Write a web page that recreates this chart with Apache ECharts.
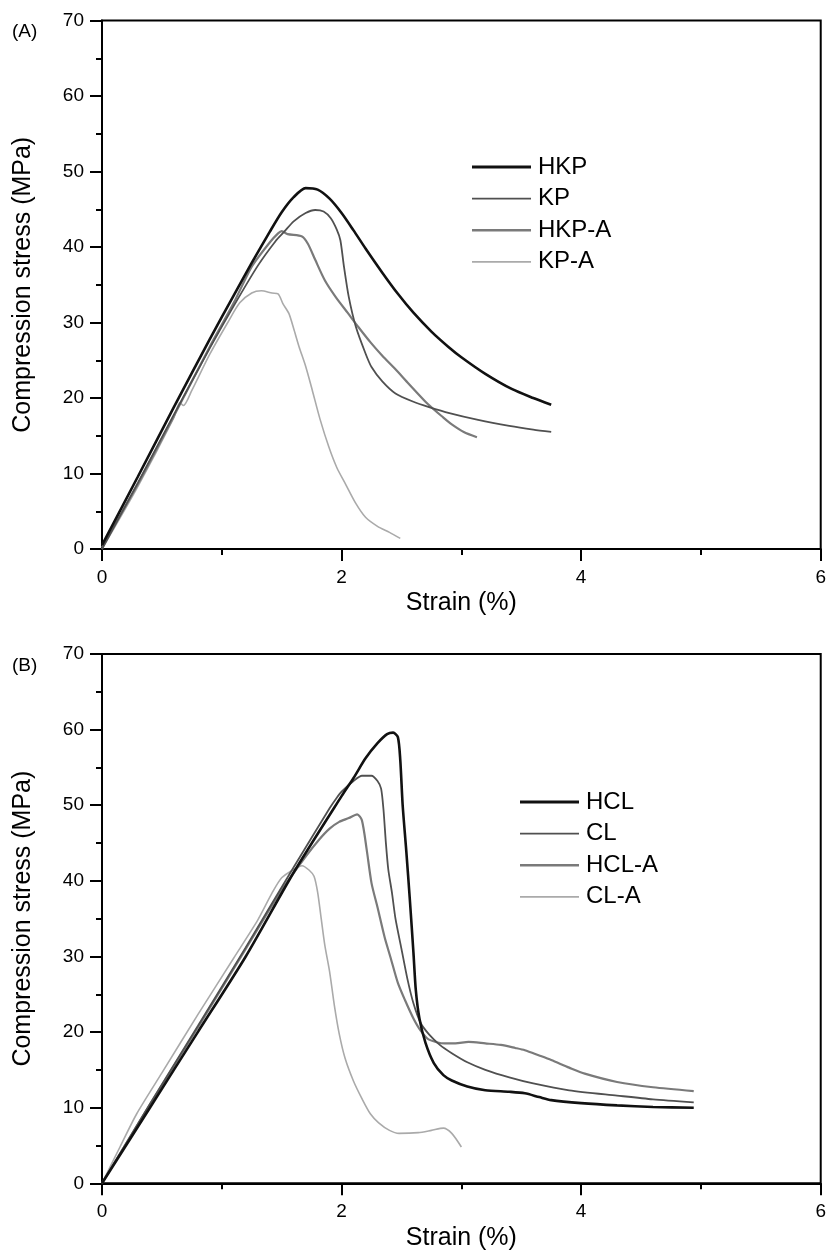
<!DOCTYPE html>
<html>
<head>
<meta charset="utf-8">
<script src="https://cdn.jsdelivr.net/npm/echarts@6/dist/echarts.min.js"></script>
<style>
html,body{margin:0;padding:0;background:#fff;}
#c{width:829px;height:1256px;}
</style>
</head>
<body>
<div id="c"></div>
<script>
// ---- Panel A data ----
const hkpX = [0,0.3,0.6,0.9,1.1,1.25,1.4,1.5,1.6,1.7,1.8,1.9,2.0,2.1,2.2,2.34,2.47,2.6,2.75,2.89,3.0,3.2,3.42,3.6,3.75];
const hkpY = [0.5,9.6,18.8,27.8,33.6,37.9,42.0,44.6,46.6,47.8,47.6,46.4,44.5,42.2,39.8,36.6,33.8,31.3,28.8,26.8,25.4,23.2,21.2,20.0,19.1];
const kpX = [0,0.3,0.6,0.9,1.1,1.3,1.45,1.52,1.6,1.7,1.78,1.85,1.91,1.96,1.99,2.02,2.06,2.12,2.2,2.25,2.34,2.45,2.6,2.73,2.9,3.14,3.4,3.6,3.75];
const kpY = [0,8.8,17.8,26.6,32.2,37.5,40.8,42.0,43.4,44.5,44.9,44.7,43.8,42.3,40.9,37.4,33.4,29.4,25.9,24.1,22.2,20.6,19.5,18.8,18.0,17.1,16.3,15.8,15.5];
const hkpaX = [0,0.3,0.6,0.9,1.1,1.25,1.4,1.47,1.5,1.55,1.67,1.72,1.78,1.86,1.95,2.05,2.14,2.24,2.34,2.45,2.56,2.72,2.85,2.92,3.02,3.13];
const hkpaY = [0.2,8.6,17.6,26.8,32.6,37.4,40.6,41.8,42.1,41.7,41.4,40.4,38.3,35.6,33.4,31.3,29.4,27.4,25.6,23.8,21.9,19.2,17.4,16.5,15.5,14.8];
const kpaX = [0,0.3,0.6,0.65,0.68,0.75,0.9,1.05,1.15,1.25,1.33,1.42,1.47,1.51,1.56,1.6,1.645,1.7,1.756,1.82,1.894,1.96,2.033,2.12,2.2,2.3,2.4,2.49];
const kpaY = [0,8.3,17.4,19.4,19.0,21.0,25.8,30.0,32.6,33.9,34.2,33.9,33.8,32.5,31.2,29.2,26.8,24.2,21.0,17.2,13.5,10.8,8.6,6.0,4.2,3.0,2.2,1.4];

// ---- Panel B data ----
const hclX = [0,0.4,0.8,1.2,1.6,2.0,2.1,2.2,2.3,2.38,2.43,2.47,2.49,2.51,2.54,2.57,2.6,2.62,2.65,2.7,2.77,2.85,2.92,3.05,3.2,3.4,3.53,3.65,3.75,4.0,4.3,4.6,4.94];
const hclY = [0,10,20,30,41.1,51.2,53.6,56.2,58.2,59.4,59.6,59.0,56.0,50.0,44.0,37.5,30.5,25.5,21.8,18.6,15.9,14.3,13.6,12.8,12.3,12.1,11.9,11.4,11.0,10.6,10.3,10.1,10.0];
const clX = [0,0.4,0.8,1.2,1.6,1.9,1.96,2.0,2.1,2.17,2.25,2.3,2.33,2.35,2.37,2.39,2.42,2.45,2.5,2.55,2.6,2.66,2.73,2.82,2.92,3.05,3.2,3.4,3.6,3.9,4.3,4.6,4.94];
const clY = [0,10.5,20.8,31.2,41.8,49.6,51.0,51.8,53.2,53.9,53.9,53.2,52.2,49.4,45.0,41.5,38.5,35.0,31.0,27.0,23.8,21.2,19.7,18.3,17.2,16.0,15.0,14.0,13.2,12.3,11.6,11.1,10.7];
const hclaX = [0,0.4,0.8,1.2,1.5,1.7,1.81,1.9,1.98,2.06,2.13,2.17,2.21,2.25,2.3,2.36,2.41,2.47,2.53,2.6,2.66,2.73,2.86,2.95,3.06,3.2,3.33,3.45,3.53,3.65,3.75,3.9,4.03,4.3,4.6,4.94];
const hclaY = [0,10.4,20.6,31.0,38.8,43.2,45.4,46.9,47.8,48.3,48.8,48.0,44.1,39.7,36.5,32.5,29.8,26.5,24.2,21.8,20.2,19.0,18.5,18.5,18.7,18.5,18.3,17.9,17.6,16.9,16.3,15.3,14.5,13.4,12.7,12.2];
const claX = [0,0.15,0.29,0.5,0.8,1.1,1.3,1.42,1.5,1.6,1.67,1.73,1.77,1.8,1.83,1.86,1.9,1.94,1.98,2.03,2.1,2.17,2.24,2.31,2.4,2.48,2.64,2.75,2.85,2.92,3.0];
const claY = [0,4.8,9.2,14.6,22.3,29.8,34.8,38.4,40.4,41.5,42.0,41.4,40.6,38.5,35.0,31.5,28.0,23.5,19.8,16.5,13.5,11.2,9.2,8.0,7.0,6.6,6.7,7.0,7.3,6.6,4.8];

// ---- Axis ticks ----
const xTicks = [0, 2, 4, 6];
const yTicks = [0, 10, 20, 30, 40, 50, 60, 70];

const FONT = '"Liberation Sans", Arial, sans-serif';
const zip = (xs, ys) => xs.map((x, i) => [x, ys[i]]);

function xAxis(gi) {
  return {
    type: 'value', gridIndex: gi, min: xTicks[0], max: xTicks[xTicks.length - 1], interval: xTicks[1] - xTicks[0],
    name: 'Strain (%)', nameLocation: 'middle', nameGap: 42,
    nameTextStyle: { fontFamily: FONT, fontSize: 25, color: '#000' },
    axisLine: { show: true, onZero: false, lineStyle: { color: '#000', width: 2 } },
    axisTick: { show: true, inside: false, length: 12, lineStyle: { color: '#000', width: 2 } },
    minorTick: { show: true, splitNumber: 2, length: 6, lineStyle: { color: '#000', width: 2 } },
    axisLabel: { fontFamily: FONT, fontSize: 19, color: '#000', margin: 19 },
    splitLine: { show: false }
  };
}
function yAxis(gi) {
  return {
    type: 'value', gridIndex: gi, min: yTicks[0], max: yTicks[yTicks.length - 1], interval: yTicks[1] - yTicks[0],
    name: 'Compression stress (MPa)', nameLocation: 'middle', nameGap: 66,
    nameTextStyle: { fontFamily: FONT, fontSize: 25, color: '#000' },
    axisLine: { show: true, onZero: false, lineStyle: { color: '#000', width: 2 } },
    axisTick: { show: true, inside: false, length: 12, lineStyle: { color: '#000', width: 2 } },
    minorTick: { show: true, splitNumber: 2, length: 6, lineStyle: { color: '#000', width: 2 } },
    axisLabel: { fontFamily: FONT, fontSize: 19, color: '#000', margin: 18 },
    splitLine: { show: false }
  };
}
function line(name, xs, ys, gi, color, width) {
  return {
    type: 'line', name: name, xAxisIndex: gi, yAxisIndex: gi,
    data: zip(xs, ys), symbol: 'none', smooth: 0.25,
    lineStyle: { color: color, width: width }, itemStyle: { color: color },
    animation: false
  };
}
// legend icon: a horizontal bar of thickness t inside a 59x14 box
function barIcon(t) {
  const y0 = 7 - t / 2;
  return 'path://M0,0h0.01v0.01h-0.01z M0,' + y0 + 'h59v' + t + 'h-59z M58.99,13.99h0.01v0.01h-0.01z';
}
const W = { dark: 2.8, mid1: 1.9, mid2: 2.4, light: 1.8 };

const chart = echarts.init(document.getElementById('c'), null, { renderer: 'canvas' });
chart.setOption({
  backgroundColor: '#fff',
  animation: false,
  title: [
    { text: '(A)', left: 7, top: 17, textStyle: { fontFamily: FONT, fontSize: 19, fontWeight: 'normal', color: '#000' } },
    { text: '(B)', left: 7, top: 651, textStyle: { fontFamily: FONT, fontSize: 19, fontWeight: 'normal', color: '#000' } }
  ],
  grid: [
    { left: 102, top: 20.5, width: 721, height: 528.5, show: true, borderColor: '#000', borderWidth: 2, containLabel: false },
    { left: 102, top: 654, width: 721, height: 529.3, show: true, borderColor: '#000', borderWidth: 2, containLabel: false }
  ],
  xAxis: [xAxis(0), xAxis(1)],
  yAxis: [yAxis(0), yAxis(1)],
  legend: [
    { data: [
        { name: 'HKP', icon: barIcon(W.dark) },
        { name: 'KP', icon: barIcon(W.mid1) },
        { name: 'HKP-A', icon: barIcon(W.mid2) },
        { name: 'KP-A', icon: barIcon(W.light) }
      ],
      orient: 'vertical', left: 467, top: 150, itemWidth: 59, itemHeight: 14, itemGap: 7.6, symbolKeepAspect: false,
      textStyle: { fontFamily: FONT, fontSize: 24, color: '#000', padding: [0, 0, 0, 2] } },
    { data: [
        { name: 'HCL', icon: barIcon(W.dark) },
        { name: 'CL', icon: barIcon(W.mid1) },
        { name: 'HCL-A', icon: barIcon(W.mid2) },
        { name: 'CL-A', icon: barIcon(W.light) }
      ],
      orient: 'vertical', left: 515, top: 785, itemWidth: 59, itemHeight: 14, itemGap: 7.6, symbolKeepAspect: false,
      textStyle: { fontFamily: FONT, fontSize: 24, color: '#000', padding: [0, 0, 0, 2] } }
  ],
  series: [
    line('KP-A', kpaX, kpaY, 0, '#aaaaaa', 1.6),
    line('HKP-A', hkpaX, hkpaY, 0, '#7a7a7a', 2.2),
    line('KP', kpX, kpY, 0, '#505050', 1.8),
    line('HKP', hkpX, hkpY, 0, '#111111', 2.6),
    line('CL-A', claX, claY, 1, '#aaaaaa', 1.6),
    line('HCL-A', hclaX, hclaY, 1, '#7a7a7a', 2.2),
    line('CL', clX, clY, 1, '#505050', 1.8),
    line('HCL', hclX, hclY, 1, '#111111', 2.6)
  ]
});
</script>
</body>
</html>
